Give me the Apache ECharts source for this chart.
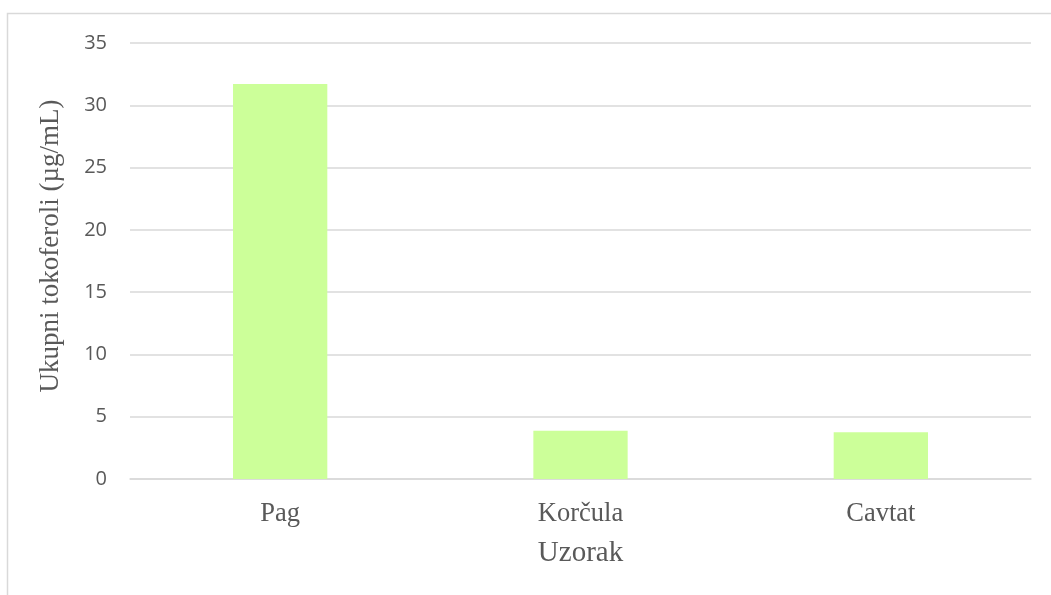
<!DOCTYPE html>
<html>
<head>
<meta charset="utf-8">
<script src="https://cdn.jsdelivr.net/npm/echarts@6/dist/echarts.min.js"></script>
<style>
html,body{margin:0;padding:0;background:#fff;}
#chart{width:1051px;height:595px;}
</style>
</head>
<body>
<div id="chart"></div>
<script>
const categories = ['Pag', 'Korčula', 'Cavtat'];
const values = [31.7, 3.88, 3.75];
const yTicks = { min: 0, max: 35, interval: 5 };
const xAxisTitle = 'Uzorak';
const yAxisTitle = 'Ukupni tokoferoli (µg/mL)';

const chart = echarts.init(document.getElementById('chart'), null, { renderer: 'canvas' });
chart.setOption({
  backgroundColor: '#ffffff',
  animation: false,
  graphic: [{
    type: 'rect',
    shape: { x: 7.5, y: 13.5, width: 1100, height: 700 },
    style: { fill: 'none', stroke: '#d9d9d9', lineWidth: 1.5 },
    silent: true,
    z: -10
  }],
  grid: { left: 130, right: 20, top: 43, bottom: 116, containLabel: false },
  xAxis: {
    type: 'category',
    data: categories,
    axisTick: { show: false },
    axisLine: { show: true, lineStyle: { color: '#d9d9d9', width: 1.5 } },
    axisLabel: {
      margin: 22,
      fontFamily: 'Liberation Serif',
      fontSize: 26.5,
      color: '#595959'
    },
    name: xAxisTitle,
    nameLocation: 'middle',
    nameGap: 60,
    nameTextStyle: { fontFamily: 'Liberation Serif', fontSize: 29, color: '#595959' }
  },
  yAxis: {
    type: 'value',
    min: yTicks.min,
    max: yTicks.max,
    interval: yTicks.interval,
    axisLine: { show: false },
    axisTick: { show: false },
    splitLine: { show: true, lineStyle: { color: '#d9d9d9', width: 1.5 } },
    axisLabel: {
      margin: 23,
      fontFamily: 'Open Sans',
      fontSize: 20,
      color: '#595959'
    },
    name: yAxisTitle,
    nameLocation: 'middle',
    nameGap: 66,
    nameTextStyle: { fontFamily: 'Liberation Serif', fontSize: 27, color: '#595959', padding: [0, 0, 0, 30] }
  },
  series: [{
    type: 'bar',
    data: values,
    barWidth: '31.4%',
    itemStyle: { color: '#ccff99' }
  }]
});
</script>
</body>
</html>
